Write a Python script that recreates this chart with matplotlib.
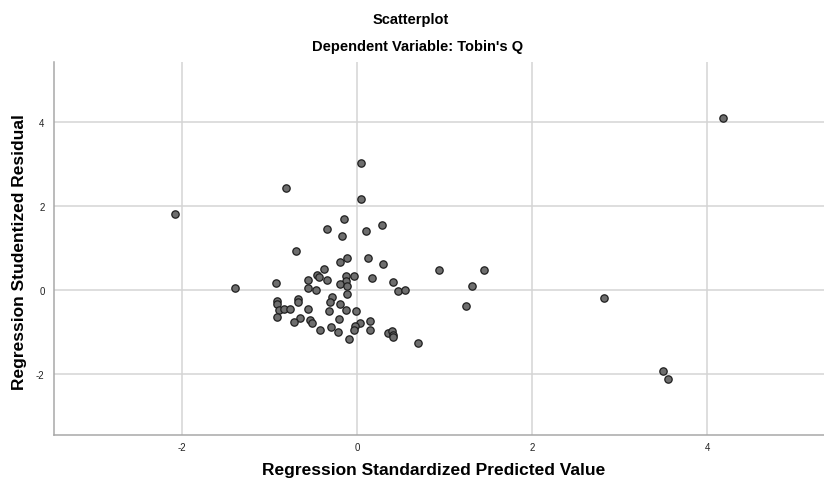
import matplotlib.pyplot as plt
import numpy as np

plt.rcParams['font.family'] = ['Liberation Sans', 'DejaVu Sans']
plt.rcParams['axes.unicode_minus'] = False

# predicted (x) and studentized residual (y)
predicted = [0.05, -0.81, 0.04, -0.15, -0.34, 0.10, 0.29, -0.17, -0.70, -0.11,
             -0.20, 0.13, 0.30, 0.93, -0.375, -0.46, -0.43, -0.34, -0.56, -0.13,
             -0.04, -0.125, -0.19, -0.12, 0.17, 0.41, -0.93, -0.56, -0.47, -0.12,
             0.47, 0.55, -0.91, -0.91, -0.67, -0.67, -0.29, -0.31, -0.19, -0.89,
             -0.83, -0.77, -0.56, -0.32, -0.13, -0.01, -0.91, -0.65, -0.72, -0.54,
             -0.51, -0.21, 0.03, 0.15, -0.42, -0.30, -0.22, -0.02, -0.04, 0.15,
             0.35, 0.40, 0.41, 0.41, -0.09, 0.69, 1.45, 1.31, 1.24, -2.08,
             -1.39, 4.18, 2.82, 3.49, 3.55]
residual = [3.02, 2.42, 2.16, 1.68, 1.45, 1.41, 1.55, 1.29, 0.92, 0.77,
            0.67, 0.75, 0.62, 0.47, 0.49, 0.36, 0.31, 0.25, 0.23, 0.33,
            0.33, 0.21, 0.14, 0.09, 0.28, 0.18, 0.17, 0.04, 0.01, -0.10,
            -0.03, -0.01, -0.27, -0.34, -0.21, -0.29, -0.17, -0.29, -0.33, -0.48,
            -0.46, -0.46, -0.45, -0.51, -0.48, -0.51, -0.63, -0.67, -0.77, -0.71,
            -0.79, -0.68, -0.78, -0.73, -0.94, -0.87, -1.01, -0.85, -0.96, -0.94,
            -1.03, -0.97, -1.06, -1.12, -1.17, -1.25, 0.48, 0.10, -0.39, 1.81,
            0.06, 4.08, -0.18, -1.93, -2.12]
ticks = [-2, 0, 2, 4]

fig = plt.figure(figsize=(8.24, 4.85), dpi=100)
ax = fig.add_axes([0.066, 0.1017, 0.934, 0.769])

ax.scatter(predicted, residual, s=28, facecolor='#6e6e6e', edgecolor='#1e1e1e',
           linewidth=0.9, zorder=3)

ax.set_xlim(-3.455, 5.33)
ax.set_ylim(-3.44, 5.43)
ax.set_xticks(ticks)
ax.set_yticks(ticks)
ax.grid(True, color='#d4d4d4', linewidth=1.1, zorder=0)
ax.set_axisbelow(True)
ax.tick_params(length=0, labelsize=7, colors='#222222')
ax.tick_params(axis='x', pad=5)
ax.tick_params(axis='y', pad=7)
for s in ['top', 'right']:
    ax.spines[s].set_visible(False)
for s in ['left', 'bottom']:
    ax.spines[s].set_color('#a8a8a8')
    ax.spines[s].set_linewidth(1.1)

fig.text(0.498, 0.958, "Scatterplot", ha='center', va='center',
         fontsize=10.5, fontweight='bold')
fig.text(0.507, 0.903, "Dependent Variable: Tobin's Q", ha='center', va='center',
         fontsize=10.5, fontweight='bold')
fig.text(0.526, 0.03, "Regression Standardized Predicted Value", ha='center',
         va='center', fontsize=12.5, fontweight='bold')
fig.text(0.024, 0.48, "Regression Studentized Residual", ha='center',
         va='center', rotation=90, fontsize=12.5, fontweight='bold')

plt.savefig('out.png', dpi=100)
